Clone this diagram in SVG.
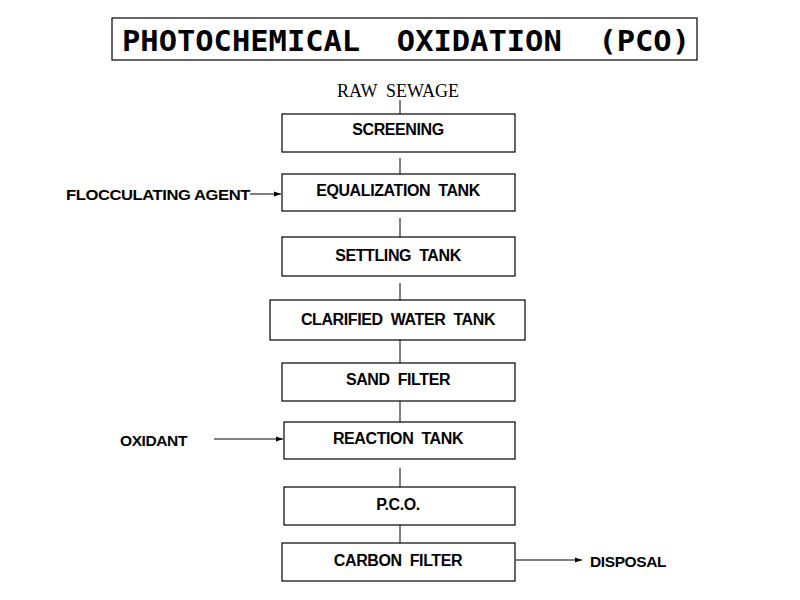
<svg xmlns="http://www.w3.org/2000/svg" width="800" height="600" viewBox="0 0 800 600">
<style>
.box{fill:#fff;stroke:#000;stroke-width:1.2}
.t{font-family:"Liberation Sans",Arial,sans-serif;font-weight:bold;font-size:16px;text-anchor:middle;letter-spacing:-0.4px}
.l{font-family:"Liberation Sans",Arial,sans-serif;font-weight:bold;font-size:15.5px;letter-spacing:-0.4px}
.c{stroke:#000;stroke-width:1;fill:none}
</style>
<defs><marker id="a" markerWidth="8" markerHeight="6" refX="7" refY="3" orient="auto" markerUnits="userSpaceOnUse"><path d="M0,0.5 L7,3 L0,5.5z" fill="#000"/></marker></defs>
<rect width="800" height="600" fill="#fff"/>
<g id="title"><rect x="112" y="18" width="585" height="42" class="box"/><text x="122" y="51" font-family="'DejaVu Sans Mono','Liberation Mono',monospace" font-weight="bold" font-size="29" textLength="568" lengthAdjust="spacingAndGlyphs" xml:space="preserve">PHOTOCHEMICAL  OXIDATION  (PCO)</text></g>
<g id="raw"><text x="398" y="97" font-family="'Liberation Serif',serif" font-size="18" text-anchor="middle" xml:space="preserve">RAW  SEWAGE</text></g>
<g id="connectors">
<line x1="400" y1="100" x2="400" y2="114" class="c"/>
<line x1="400" y1="158" x2="400" y2="174" class="c"/>
<line x1="400" y1="218" x2="400" y2="237" class="c"/>
<line x1="400" y1="283" x2="400" y2="300" class="c"/>
<line x1="400" y1="340" x2="400" y2="363" class="c"/>
<line x1="400" y1="401" x2="400" y2="422" class="c"/>
<line x1="400" y1="468" x2="400" y2="487" class="c"/>
<line x1="400" y1="525" x2="400" y2="543" class="c"/>
<line x1="250" y1="194" x2="281" y2="194" class="c" marker-end="url(#a)"/>
<line x1="214" y1="439" x2="283" y2="439" class="c" marker-end="url(#a)"/>
<line x1="516" y1="560" x2="582" y2="560" class="c" marker-end="url(#a)"/>
</g>
<g id="screening"><rect x="282" y="114" width="233" height="38" class="box"/><text x="398" y="135" class="t">SCREENING</text></g>
<g id="equalization"><rect x="282" y="174" width="233" height="37" class="box"/><text x="398" y="196" class="t" xml:space="preserve">EQUALIZATION  TANK</text></g>
<g id="settling"><rect x="282" y="237" width="233" height="39" class="box"/><text x="398" y="261" class="t" xml:space="preserve">SETTLING  TANK</text></g>
<g id="clarified"><rect x="270" y="300" width="255" height="40" class="box"/><text x="398" y="325" class="t" xml:space="preserve">CLARIFIED  WATER  TANK</text></g>
<g id="sand"><rect x="282" y="363" width="233" height="38" class="box"/><text x="398" y="385" class="t" xml:space="preserve">SAND  FILTER</text></g>
<g id="reaction"><rect x="284" y="422" width="231" height="37" class="box"/><text x="398" y="444" class="t" xml:space="preserve">REACTION  TANK</text></g>
<g id="pco"><rect x="284" y="487" width="231" height="38" class="box"/><text x="398" y="510" class="t">P.C.O.</text></g>
<g id="carbon"><rect x="282" y="543" width="233" height="38" class="box"/><text x="398" y="566" class="t" xml:space="preserve">CARBON  FILTER</text></g>
<g id="labels">
<text x="66" y="200" class="l" textLength="184" lengthAdjust="spacingAndGlyphs">FLOCCULATING AGENT</text>
<text x="120" y="446" class="l">OXIDANT</text>
<text x="590" y="567" class="l">DISPOSAL</text>
</g>
</svg>
